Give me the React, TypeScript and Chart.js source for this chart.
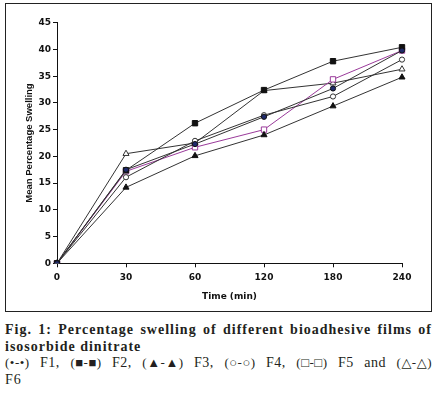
import React, { useEffect, useRef } from "react";
import { Chart, registerables } from "chart.js";

Chart.register(...registerables);

const categories = ["0", "30", "60", "120", "180", "240"];
const yTicks = [0, 5, 10, 15, 20, 25, 30, 35, 40, 45];

const F1 = [0, 17.5, 22.3, 27.4, 32.7, 39.8];
const F2 = [0, 17.4, 26.2, 32.4, 37.8, 40.4];
const F3 = [0, 14.2, 20.1, 24.0, 29.4, 34.8];
const F4 = [0, 16.1, 22.9, 27.7, 31.2, 38.1];
const F5 = [0, 17.2, 21.7, 25.0, 34.4, 39.8];
const F6 = [0, 20.5, 22.5, 32.3, 33.7, 36.3];

const legendItems = [
  { sym: "(•-•)", name: "F1," },
  { sym: "(■-■)", name: "F2," },
  { sym: "(▲-▲)", name: "F3," },
  { sym: "(○-○)", name: "F4," },
  { sym: "(□-□)", name: "F5 and" },
  { sym: "(△-△)", name: "" },
];

const LINE = "#333333";
const PURPLE = "#9a3a9a";

export default function App() {
  const ref = useRef<HTMLCanvasElement | null>(null);

  useEffect(() => {
    if (!ref.current) return;
    const mk = (label: string, data: number[], opts: any) => ({
      label,
      data,
      borderColor: LINE,
      borderWidth: 1,
      pointBorderWidth: 1,
      pointBorderColor: "#111111",
      tension: 0,
      ...opts,
    });
    const chart = new Chart(ref.current, {
      type: "line",
      data: {
        labels: categories,
        datasets: [
          mk("F1", F1, { pointStyle: "circle", pointRadius: 2.6, pointBackgroundColor: "#1f2a6b" }),
          mk("F2", F2, { pointStyle: "rect", pointRadius: 3.8, pointBackgroundColor: "#111111" }),
          mk("F3", F3, { pointStyle: "triangle", pointRadius: 3.5, pointBackgroundColor: "#111111" }),
          mk("F4", F4, { pointStyle: "circle", pointRadius: 2.6, pointBackgroundColor: "#ffffff", pointBorderColor: "#333333" }),
          mk("F5", F5, { pointStyle: "rect", pointRadius: 3.8, pointBackgroundColor: "#ffffff", pointBorderColor: PURPLE, borderColor: PURPLE }),
          mk("F6", F6, { pointStyle: "triangle", pointRadius: 3.5, pointBackgroundColor: "#ffffff", pointBorderColor: "#333333" }),
        ],
      },
      options: {
        animation: false,
        responsive: false,
        maintainAspectRatio: false,
        layout: { padding: { top: 18.7, right: 29, left: 0, bottom: 0 } },
        plugins: { legend: { display: false }, tooltip: { enabled: false } },
        scales: {
          x: {
            type: "category",
            offset: false,
            afterFit: (s: any) => { s.height = 47.7; },
            grid: { drawOnChartArea: false, drawTicks: true, tickLength: 4, color: "#111111" },
            border: { color: "#111111", width: 1 },
            ticks: { padding: 5, color: "#111111", font: { family: "DejaVu Sans", size: 9, weight: "bold" }, maxRotation: 0, autoSkip: false },
            title: { display: true, text: "Time (min)", color: "#111111", padding: { top: 0, bottom: 8.9 }, font: { family: "DejaVu Sans", size: 9, weight: "bold" } },
          },
          y: {
            min: 0,
            max: 45,
            afterFit: (s: any) => { s.width = 51; },
            afterBuildTicks: (s: any) => { s.ticks = yTicks.map((v) => ({ value: v })); },
            grid: { drawOnChartArea: false, drawTicks: true, tickLength: 4, color: "#111111" },
            border: { color: "#111111", width: 1 },
            ticks: { padding: 2, color: "#111111", font: { family: "DejaVu Sans", size: 9, weight: "bold" } },
            title: { display: true, text: "Mean Percentage Swelling", color: "#111111", padding: { top: 17.5, bottom: 0 }, font: { family: "Liberation Sans", size: 9.5, weight: "bold" } },
          },
        },
      },
    });
    return () => chart.destroy();
  }, []);

  const cap: React.CSSProperties = {
    position: "absolute",
    left: 5,
    width: 427,
    fontFamily: "'Liberation Serif', 'DejaVu Serif', serif",
    fontSize: 14,
    letterSpacing: "1px",
    lineHeight: "16.5px",
    color: "#231f20",
    whiteSpace: "nowrap",
  };

  return (
    <div style={{ position: "relative", width: 439, height: 399, background: "#ffffff", overflow: "hidden" }}>
      <style>{"body{margin:0}"}</style>
      <div style={{ position: "absolute", left: 5, top: 3, width: 427, height: 309, border: "1px solid #222", boxSizing: "border-box" }}>
        <canvas ref={ref} width={425} height={307} style={{ display: "block", width: 425, height: 307 }} />
      </div>
      <div style={{ ...cap, top: 322, fontWeight: "bold", textAlign: "justify", textAlignLast: "justify" }}>
        Fig. 1: Percentage swelling of different bioadhesive films of
      </div>
      <div style={{ ...cap, top: 338.5, fontWeight: "bold" }}>isosorbide dinitrate</div>
      <div style={{ ...cap, top: 355, letterSpacing: "0.5px", textAlign: "justify", textAlignLast: "justify" }}>
        {legendItems.map((it, i) => (
          <React.Fragment key={i}>
            <span style={{ display: "inline-block", fontSize: 13 }}>{it.sym}</span>
            {it.name ? " " + it.name + " " : ""}
          </React.Fragment>
        ))}
      </div>
      <div style={{ ...cap, top: 371.5 }}>F6</div>
    </div>
  );
}
